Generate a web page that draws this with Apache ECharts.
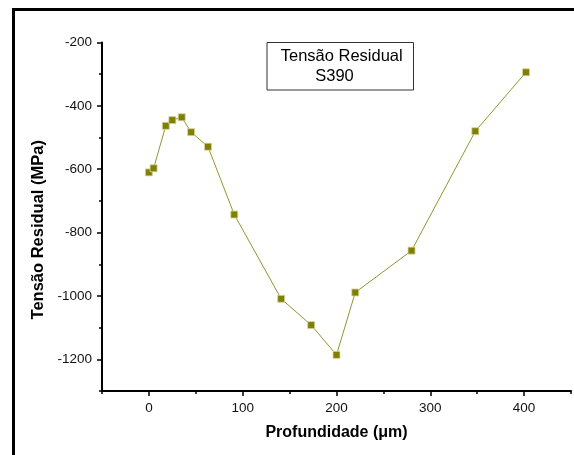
<!DOCTYPE html>
<html>
<head>
<meta charset="utf-8">
<title>Tensão Residual S390</title>
<script src="https://cdn.jsdelivr.net/npm/echarts@6.0.0/dist/echarts.min.js"></script>
<style>
  html, body { margin: 0; padding: 0; background: #fff; }
  #chart { width: 574px; height: 455px; }
</style>
</head>
<body>
<div id="chart"></div>
<script>
// profundidade (um) e tensao residual (MPa)
const depth = [0, 5, 18, 25, 35, 45, 63, 91, 141, 173, 200, 220, 280, 348, 402];
const stress = [-610, -597, -463, -445, -436, -483, -529, -743, -1009, -1092, -1186, -989, -857, -480, -294];

const xMajorTicks = [0, 100, 200, 300, 400];
const yMajorTicks = [-200, -400, -600, -800, -1000, -1200];

const font = 'Liberation Sans, Arial, sans-serif';
const olive = '#808000';

const points = depth.map((d, i) => [d, stress[i]]);

const chart = echarts.init(document.getElementById('chart'), null, { renderer: 'canvas' });

const baseX = {
  type: 'value',
  min: -50,
  max: 450,
  interval: 50,
  position: 'bottom',
  splitLine: { show: false }
};
const baseY = {
  type: 'value',
  min: -1300,
  max: -200,
  interval: 100,
  position: 'left',
  splitLine: { show: false }
};

const option = {
  animation: false,
  backgroundColor: '#fff',
  grid: { left: 102, right: 1.7, top: 42.5, bottom: 64 },
  xAxis: [
    Object.assign({}, baseX, {
      name: 'Profundidade (μm)',
      nameLocation: 'middle',
      nameGap: 34,
      nameTextStyle: { fontFamily: font, fontSize: 16, fontWeight: 'bold', color: '#000' },
      axisLine: { onZero: false, lineStyle: { color: '#000', width: 2 } },
      axisTick: { length: 3, lineStyle: { color: '#000', width: 1.5 } },
      axisLabel: {
        margin: 10,
        fontFamily: font, fontSize: 13.5, color: '#111',
        formatter: v => (xMajorTicks.indexOf(v) >= 0 ? String(v) : '')
      }
    }),
    Object.assign({}, baseX, {
      axisLine: { show: false, onZero: false },
      axisTick: { length: 5, customValues: xMajorTicks, lineStyle: { color: '#000', width: 1.5 } },
      axisLabel: { show: false }
    })
  ],
  yAxis: [
    Object.assign({}, baseY, {
      name: 'Tensão Residual (MPa)',
      nameLocation: 'middle',
      nameGap: 53,
      nameTextStyle: {
        fontFamily: font, fontSize: 16.5, fontWeight: 'bold', color: '#000',
        padding: [0, 26, 0, 0]
      },
      axisLine: { onZero: false, lineStyle: { color: '#000', width: 2 } },
      axisTick: { length: 3, lineStyle: { color: '#000', width: 1.5 } },
      axisLabel: {
        margin: 10,
        fontFamily: font, fontSize: 13.5, color: '#111',
        formatter: v => (yMajorTicks.indexOf(v) >= 0 ? String(v) : '')
      }
    }),
    Object.assign({}, baseY, {
      axisLine: { show: false, onZero: false },
      axisTick: { length: 5, customValues: yMajorTicks, lineStyle: { color: '#000', width: 1.5 } },
      axisLabel: { show: false }
    })
  ],
  series: [
    {
      name: 'S390',
      type: 'line',
      data: points,
      symbol: 'rect',
      symbolSize: 7,
      lineStyle: { color: '#959530', width: 1 },
      itemStyle: { color: olive, borderColor: '#d6d6a6', borderWidth: 0.8 }
    }
  ],
  graphic: [
    {
      // moldura externa
      type: 'rect',
      shape: { x: 13.5, y: 9.5, width: 700, height: 600 },
      style: { fill: null, stroke: '#000', lineWidth: 3 },
      silent: true
    },
    {
      type: 'group',
      children: [
        {
          type: 'rect',
          shape: { x: 267, y: 42.5, width: 146.5, height: 47.5 },
          style: { fill: '#fff', stroke: '#333', lineWidth: 1 }
        },
        {
          type: 'text',
          x: 341.7, y: 56,
          style: {
            text: 'Tensão Residual',
            font: '16.5px ' + font,
            fill: '#000',
            textAlign: 'center',
            textVerticalAlign: 'middle'
          }
        },
        {
          type: 'text',
          x: 334.5, y: 76,
          style: {
            text: 'S390',
            font: '16.5px ' + font,
            fill: '#000',
            textAlign: 'center',
            textVerticalAlign: 'middle'
          }
        }
      ]
    }
  ]
};

chart.setOption(option);
</script>
</body>
</html>
